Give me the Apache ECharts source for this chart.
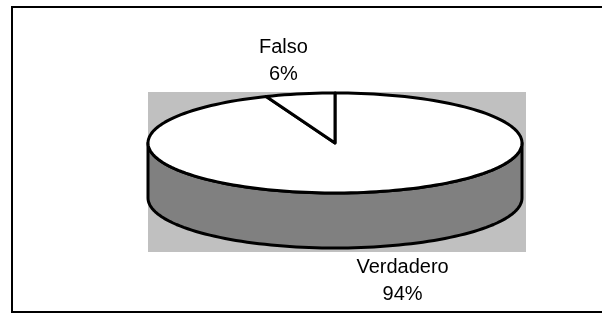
<!DOCTYPE html>
<html>
<head>
<meta charset="utf-8">
<script src="https://cdn.jsdelivr.net/npm/echarts@6/dist/echarts.min.js"></script>
<style>
html, body { margin: 0; padding: 0; background: #fff; }
#main { width: 602px; height: 314px; }
</style>
</head>
<body>
<div id="main"></div>
<script>
// datos del gráfico
var categories = ['Verdadero', 'Falso'];
var values = [94, 6];

var chart = echarts.init(document.getElementById('main'));

// geometría del pastel 3D
var cx = 335, cy = 143, rx = 187, ry = 50, depth = 55;
var total = values.reduce(function (a, b) { return a + b; }, 0);

// ángulos de cada porción (en sentido horario desde las 12)
function sliceAngles(i) {
    var acc = 0;
    for (var k = 0; k < i; k++) acc += values[k];
    var a0 = acc / total * Math.PI * 2;
    var a1 = (acc + values[i]) / total * Math.PI * 2;
    return [a0, a1];
}

function pt(t, dy) {
    return [cx + rx * Math.sin(t), cy - ry * Math.cos(t) + (dy || 0)];
}

function arcPoints(a0, a1, dy) {
    var pts = [];
    var n = Math.max(2, Math.ceil((a1 - a0) / (Math.PI / 90)));
    for (var j = 0; j <= n; j++) {
        pts.push(pt(a0 + (a1 - a0) * j / n, dy));
    }
    return pts;
}

// cara lateral (sólo la parte delantera es visible)
function renderSide(params, api) {
    var ang = sliceAngles(params.dataIndex);
    var a0 = Math.max(ang[0], Math.PI / 2);
    var a1 = Math.min(ang[1], Math.PI * 3 / 2);
    if (a1 <= a0) return { type: 'group', children: [] };
    var top = arcPoints(a0, a1, 0);
    var bottom = arcPoints(a0, a1, depth).reverse();
    return {
        type: 'polygon',
        shape: { points: top.concat(bottom) },
        style: { fill: '#808080', stroke: '#000', lineWidth: 3, lineJoin: 'round' }
    };
}

// cara superior + etiqueta
function renderTop(params, api) {
    var i = params.dataIndex;
    var ang = sliceAngles(i);
    var pts = [[cx, cy]].concat(arcPoints(ang[0], ang[1], 0));
    var mid = (ang[0] + ang[1]) / 2;
    var front = Math.cos(mid) < 0;
    var lx = cx + rx * 1.7 * Math.sin(mid) + 8;
    var ly = cy - ry * 1.68 * Math.cos(mid) + (front ? depth : 0);
    var pct = Math.round(values[i] / total * 100);
    return {
        type: 'group',
        children: [
            {
                type: 'polygon',
                shape: { points: pts },
                style: { fill: '#fff', stroke: '#000', lineWidth: 3, lineJoin: 'round' }
            },
            {
                type: 'text',
                style: {
                    text: categories[i] + '\n' + pct + '%',
                    x: lx,
                    y: ly,
                    align: 'center',
                    verticalAlign: 'middle',
                    fill: '#000',
                    fontSize: 20,
                    lineHeight: 27,
                    fontFamily: 'Liberation Sans, Arial, sans-serif'
                }
            }
        ]
    };
}

var option = {
    animation: false,
    graphic: [
        {
            type: 'rect',
            z: 0,
            shape: { x: 12, y: 7, width: 640, height: 305 },
            style: { fill: '#fff', stroke: '#000', lineWidth: 2 }
        },
        {
            type: 'rect',
            z: 0,
            shape: { x: 148, y: 92, width: 378, height: 160 },
            style: { fill: '#c0c0c0' }
        }
    ],
    series: [
        {
            type: 'custom',
            coordinateSystem: 'none',
            z: 2,
            silent: true,
            renderItem: renderSide,
            data: values
        },
        {
            type: 'custom',
            coordinateSystem: 'none',
            z: 3,
            silent: true,
            renderItem: renderTop,
            data: values
        }
    ]
};

chart.setOption(option);
</script>
</body>
</html>
